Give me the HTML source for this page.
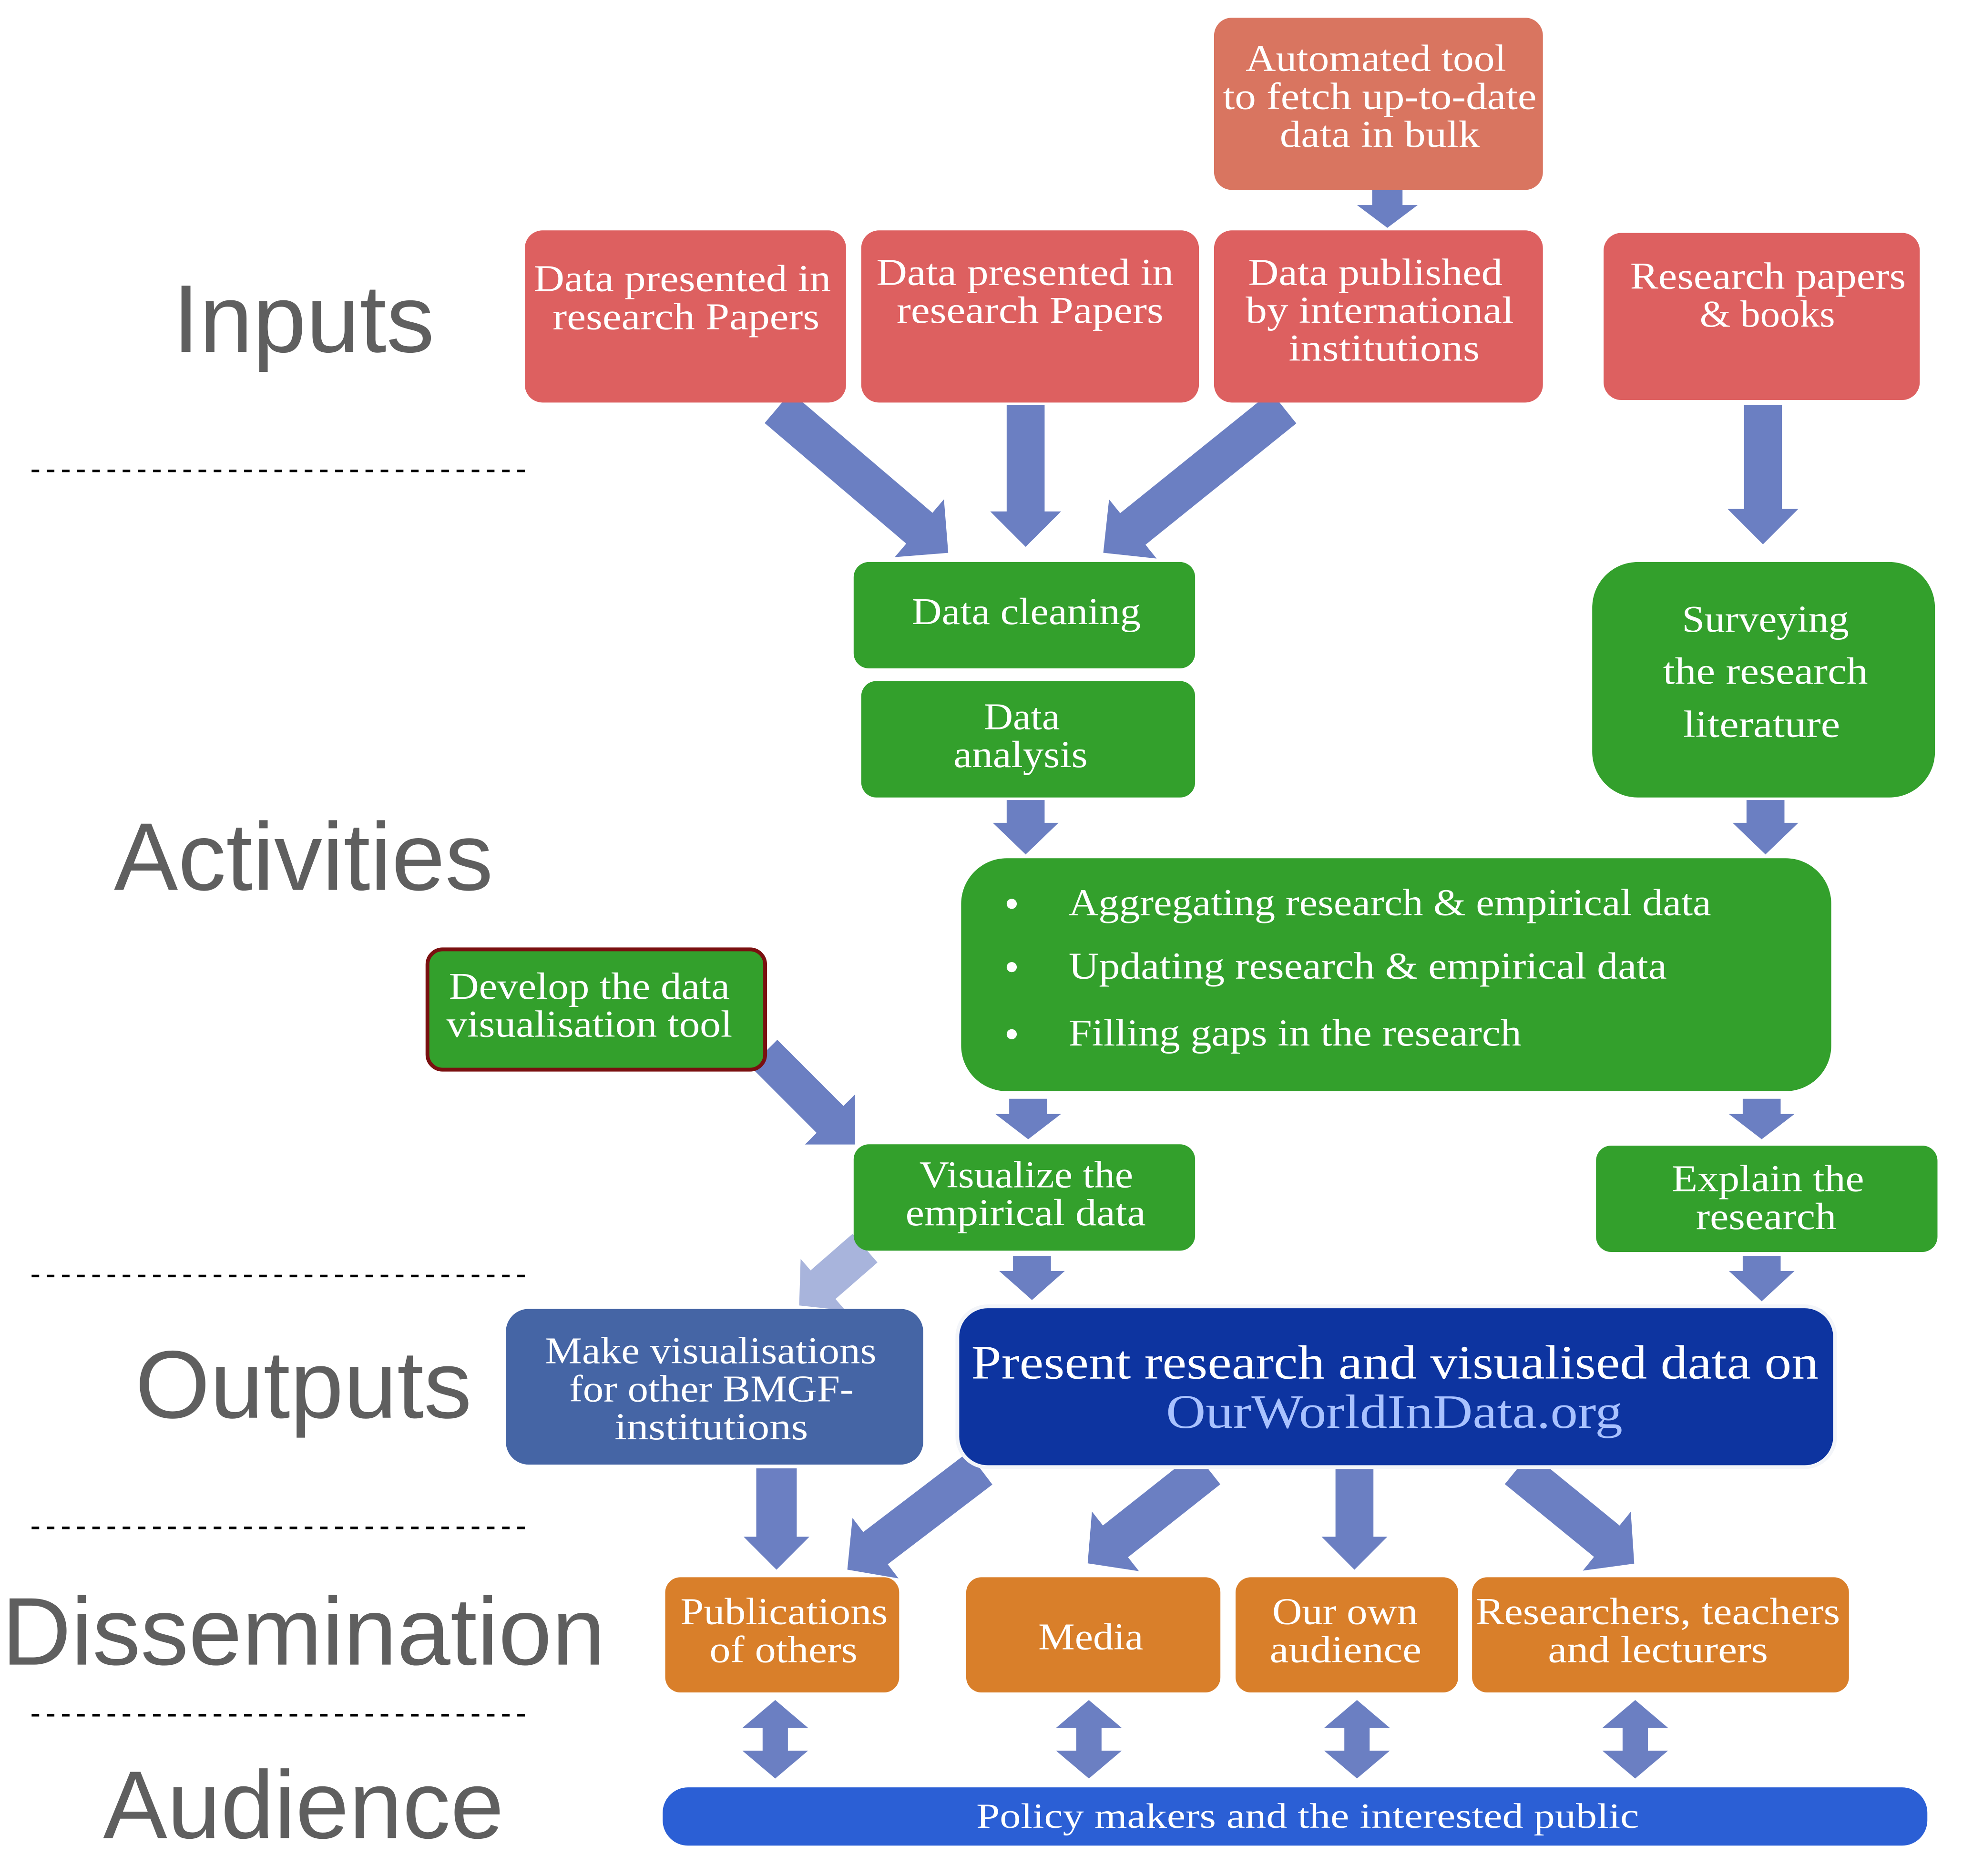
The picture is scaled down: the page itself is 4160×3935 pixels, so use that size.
<!DOCTYPE html>
<html><head><meta charset="utf-8"><style>
html,body{margin:0;padding:0;background:#fff;}
svg{display:block;}
.t{font-family:"Liberation Serif",serif;fill:#fff;text-anchor:middle;font-size:30px;}
.s{text-anchor:start;}
.h{font-family:"Liberation Sans",sans-serif;fill:#5f5f5f;text-anchor:middle;font-size:76px;}
</style></head><body>
<svg width="4160" height="3935" viewBox="0 0 1568 1482" preserveAspectRatio="none" xmlns="http://www.w3.org/2000/svg">
<!-- section labels -->
<text class="h" x="240" y="278">Inputs</text>
<text class="h" x="240" y="703">Activities</text>
<text class="h" x="240" y="1120">Outputs</text>
<text class="h" x="240" y="1315">Dissemination</text>
<text class="h" x="240" y="1452">Audience</text>
<g stroke="#000" stroke-width="2" stroke-dasharray="6,6">
<line x1="25" y1="372" x2="418" y2="372"/>
<line x1="25" y1="1008" x2="418" y2="1008"/>
<line x1="25" y1="1207" x2="418" y2="1207"/>
<line x1="25" y1="1355" x2="418" y2="1355"/>
</g>

<!-- arrows -->
<g fill="#6b7fc2">
<g transform="translate(1097,150)"><polygon points="-12,0 12,0 12,12 24,12 0,30 -24,12 -12,12"/></g>
<g transform="translate(615,322) rotate(-49.6)"><polygon points="-16,0 16,0 16,147 30,147 0,177 -30,147 -16,147"/></g>
<g transform="translate(811,320)"><polygon points="-15,0 15,0 15,84 28,84 0,112 -28,84 -15,84"/></g>
<g transform="translate(1015,322) rotate(51.2)"><polygon points="-16,0 16,0 16,153 30,153 0,183 -30,153 -16,153"/></g>
<g transform="translate(1394,320)"><polygon points="-15,0 15,0 15,82 28,82 0,110 -28,82 -15,82"/></g>
<g transform="translate(811,632)"><polygon points="-15,0 15,0 15,18 26,18 0,43 -26,18 -15,18"/></g>
<g transform="translate(1396,632)"><polygon points="-15,0 15,0 15,18 26,18 0,43 -26,18 -15,18"/></g>
<g transform="translate(604,832) rotate(-45)"><polygon points="-15,0 15,0 15,74 28,74 0,102 -28,74 -15,74"/></g>
<g transform="translate(813,868)"><polygon points="-15,0 15,0 15,12 26,12 0,32 -26,12 -15,12"/></g>
<g transform="translate(1393,868)"><polygon points="-15,0 15,0 15,12 26,12 0,32 -26,12 -15,12"/></g>
<g transform="translate(816,992)"><polygon points="-15,0 15,0 15,12 26,12 0,35 -26,12 -15,12"/></g>
<g transform="translate(1393,992)"><polygon points="-15,0 15,0 15,12 26,12 0,36 -26,12 -15,12"/></g>
<g transform="translate(614,1160)"><polygon points="-16,0 16,0 16,54 26,54 0,80 -26,54 -16,54"/></g>
<g transform="translate(775,1160) rotate(52.7)"><polygon points="-16,0 16,0 16,104 30,104 0,132 -30,104 -16,104"/></g>
<g transform="translate(955,1160) rotate(51.7)"><polygon points="-16,0 16,0 16,93 30,93 0,121 -30,93 -16,93"/></g>
<g transform="translate(1071,1160)"><polygon points="-15,0 15,0 15,54 26,54 0,80 -26,54 -15,54"/></g>
<g transform="translate(1200,1160) rotate(-50.8)"><polygon points="-16,0 16,0 16,91 30,91 0,119 -30,91 -16,91"/></g>
<g transform="translate(613,1343)"><polygon points="0,0 26,22 10,22 10,40 26,40 0,62 -26,40 -10,40 -10,22 -26,22"/></g>
<g transform="translate(861,1343)"><polygon points="0,0 26,22 10,22 10,40 26,40 0,62 -26,40 -10,40 -10,22 -26,22"/></g>
<g transform="translate(1073,1343)"><polygon points="0,0 26,22 10,22 10,40 26,40 0,62 -26,40 -10,40 -10,22 -26,22"/></g>
<g transform="translate(1293,1343)"><polygon points="0,0 26,22 10,22 10,40 26,40 0,62 -26,40 -10,40 -10,22 -26,22"/></g>
</g>
<g fill="#a8b4dc" transform="translate(684,986) rotate(49)"><polygon points="-15,0 15,0 15,44 27,44 0,69 -27,44 -15,44"/></g>

<!-- input boxes -->
<rect x="960" y="14" width="260" height="136" rx="14" fill="#d97560"/>
<text class="t" x="1088" y="56" textLength="206" lengthAdjust="spacingAndGlyphs">Automated tool</text>
<text class="t" x="1091" y="86" textLength="248" lengthAdjust="spacingAndGlyphs">to fetch up-to-date</text>
<text class="t" x="1091" y="116" textLength="158" lengthAdjust="spacingAndGlyphs">data in bulk</text>
<rect x="415" y="182" width="254" height="136" rx="14" fill="#dd6060"/>
<text class="t" x="539.5" y="230" textLength="235" lengthAdjust="spacingAndGlyphs">Data presented in</text>
<text class="t" x="542.5" y="260" textLength="211" lengthAdjust="spacingAndGlyphs">research Papers</text>
<rect x="681" y="182" width="267" height="136" rx="14" fill="#dd6060"/>
<text class="t" x="810.5" y="225" textLength="235" lengthAdjust="spacingAndGlyphs">Data presented in</text>
<text class="t" x="814.5" y="255" textLength="211" lengthAdjust="spacingAndGlyphs">research Papers</text>
<rect x="960" y="182" width="260" height="136" rx="14" fill="#dd6060"/>
<text class="t" x="1087.5" y="225" textLength="201" lengthAdjust="spacingAndGlyphs">Data published</text>
<text class="t" x="1091" y="255" textLength="212" lengthAdjust="spacingAndGlyphs">by international</text>
<text class="t" x="1094.5" y="285" textLength="151" lengthAdjust="spacingAndGlyphs">institutions</text>
<rect x="1268" y="184" width="250" height="132" rx="14" fill="#dd6060"/>
<text class="t" x="1398" y="228" textLength="218" lengthAdjust="spacingAndGlyphs">Research papers</text>
<text class="t" x="1397.5" y="258" textLength="107" lengthAdjust="spacingAndGlyphs">&amp; books</text>

<!-- activities -->
<rect x="675" y="444" width="270" height="84" rx="12" fill="#33a02c"/>
<text class="t" x="811.5" y="493" textLength="181" lengthAdjust="spacingAndGlyphs">Data cleaning</text>
<rect x="681" y="538" width="264" height="92" rx="12" fill="#33a02c"/>
<text class="t" x="808" y="576" textLength="60" lengthAdjust="spacingAndGlyphs">Data</text>
<text class="t" x="807" y="606" textLength="106" lengthAdjust="spacingAndGlyphs">analysis</text>
<rect x="1259" y="444" width="271" height="186" rx="36" fill="#33a02c"/>
<text class="t" x="1396" y="499" textLength="132" lengthAdjust="spacingAndGlyphs">Surveying</text>
<text class="t" x="1396" y="540" textLength="162" lengthAdjust="spacingAndGlyphs">the research</text>
<text class="t" x="1393" y="582" textLength="124" lengthAdjust="spacingAndGlyphs">literature</text>
<rect x="760" y="678" width="688" height="184" rx="36" fill="#33a02c"/>
<circle cx="800" cy="714" r="4" fill="#fff"/>
<text class="t s" x="845" y="723" textLength="508" lengthAdjust="spacingAndGlyphs">Aggregating research &amp; empirical data</text>
<circle cx="800" cy="764" r="4" fill="#fff"/>
<text class="t s" x="845" y="773" textLength="473" lengthAdjust="spacingAndGlyphs">Updating research &amp; empirical data</text>
<circle cx="800" cy="817" r="4" fill="#fff"/>
<text class="t s" x="845" y="826" textLength="358" lengthAdjust="spacingAndGlyphs">Filling gaps in the research</text>
<rect x="338" y="750" width="267" height="95" rx="12" fill="#33a02c" stroke="#7a1010" stroke-width="3"/>
<text class="t" x="466" y="789" textLength="222" lengthAdjust="spacingAndGlyphs">Develop the data</text>
<text class="t" x="466" y="819" textLength="226" lengthAdjust="spacingAndGlyphs">visualisation tool</text>
<rect x="675" y="904" width="270" height="84" rx="12" fill="#33a02c"/>
<text class="t" x="811.5" y="938" textLength="169" lengthAdjust="spacingAndGlyphs">Visualize the</text>
<text class="t" x="811" y="968" textLength="190" lengthAdjust="spacingAndGlyphs">empirical data</text>
<rect x="1262" y="905" width="270" height="84" rx="12" fill="#33a02c"/>
<text class="t" x="1398" y="941" textLength="152" lengthAdjust="spacingAndGlyphs">Explain the</text>
<text class="t" x="1396.5" y="971" textLength="111" lengthAdjust="spacingAndGlyphs">research</text>

<!-- outputs -->
<rect x="400" y="1034" width="330" height="123" rx="18" fill="#4565a5"/>
<text class="t" x="562" y="1077" textLength="262" lengthAdjust="spacingAndGlyphs">Make visualisations</text>
<text class="t" x="562.5" y="1107" textLength="225" lengthAdjust="spacingAndGlyphs">for other BMGF-</text>
<text class="t" x="562.5" y="1137" textLength="153" lengthAdjust="spacingAndGlyphs">institutions</text>
<rect x="757" y="1032" width="694" height="127" rx="24" fill="#0d34a0" stroke="#f3f5f9" stroke-width="3"/>
<text class="t" x="1103" y="1089" style="font-size:38px" textLength="670" lengthAdjust="spacingAndGlyphs">Present research and visualised data on</text>
<text class="t" x="1102.5" y="1128" style="font-size:38px;fill:#a9c2ff" textLength="361" lengthAdjust="spacingAndGlyphs">OurWorldInData.org</text>

<!-- dissemination -->
<rect x="526" y="1246" width="185" height="91" rx="12" fill="#d97f2a"/>
<text class="t" x="620" y="1283" textLength="164" lengthAdjust="spacingAndGlyphs">Publications</text>
<text class="t" x="619.5" y="1313" textLength="117" lengthAdjust="spacingAndGlyphs">of others</text>
<rect x="764" y="1246" width="201" height="91" rx="12" fill="#d97f2a"/>
<text class="t" x="862.5" y="1303" textLength="83" lengthAdjust="spacingAndGlyphs">Media</text>
<rect x="977" y="1246" width="176" height="91" rx="12" fill="#d97f2a"/>
<text class="t" x="1063.5" y="1283" textLength="115" lengthAdjust="spacingAndGlyphs">Our own</text>
<text class="t" x="1064" y="1313" textLength="120" lengthAdjust="spacingAndGlyphs">audience</text>
<rect x="1164" y="1246" width="298" height="91" rx="12" fill="#d97f2a"/>
<text class="t" x="1311" y="1283" textLength="288" lengthAdjust="spacingAndGlyphs">Researchers, teachers</text>
<text class="t" x="1311" y="1313" textLength="174" lengthAdjust="spacingAndGlyphs">and lecturers</text>

<!-- audience -->
<rect x="524" y="1412" width="1000" height="46" rx="20" fill="#2b5fd5"/>
<text class="t" x="1034" y="1444" style="font-size:28px" textLength="524" lengthAdjust="spacingAndGlyphs">Policy makers and the interested public</text>
</svg>
</body></html>
